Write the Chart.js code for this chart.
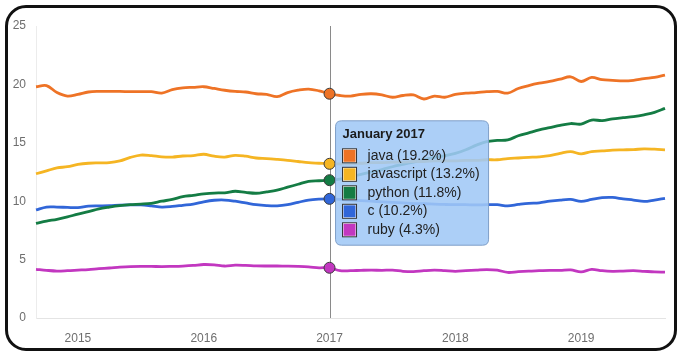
<!DOCTYPE html>
<html>
<head>
<meta charset="utf-8">
<script src="https://cdn.jsdelivr.net/npm/chart.js@4/dist/chart.umd.min.js"></script>
<style>
  html, body { margin: 0; padding: 0; background: #fff; }
  #wrap { position: relative; width: 690px; height: 358px; }
  #frame { position: absolute; left: 5px; top: 5px; width: 672px; height: 346px; box-sizing: border-box;
           border: 3px solid #111; border-radius: 21px; pointer-events: none; }
  canvas { position: absolute; left: 0; top: 0; }
</style>
</head>
<body>
<div id="wrap">
  <canvas id="c" width="690" height="358"></canvas>
  <div id="frame"></div>
</div>
<script>
// Monthly categories: September 2014 .. September 2019
const monthNames = ["January","February","March","April","May","June","July","August","September","October","November","December"];
const categories = [];
for (let y = 2014, m = 8; y < 2019 || (y === 2019 && m <= 8); ) {
  categories.push(monthNames[m] + " " + y);
  m++; if (m === 12) { m = 0; y++; }
}
const yearTicks = ["2015", "2016", "2017", "2018", "2019"];
const yTicks = [0, 5, 10, 15, 20, 25];
const highlightLabel = "January 2017";

const seriesNames = ["java", "javascript", "python", "c", "ruby"];

const javaValues = [19.8,19.9,19.3,19.0,19.15,19.35,19.4,19.4,19.4,19.38,19.38,19.38,19.25,19.55,19.7,19.75,19.8,19.65,19.5,19.4,19.35,19.2,19.15,18.95,19.3,19.5,19.6,19.45,
  19.2,19.05,19.0,19.15,19.2,19.1,18.9,19.05,19.1,18.75,19.0,18.9,19.15,19.25,19.3,19.38,19.4,19.25,19.65,19.9,20.1,20.25,20.45,20.65,20.25,20.6,20.4,20.35,20.3,20.35,20.5,20.6,20.8];
const javascriptValues = [12.35,12.6,12.85,12.95,13.15,13.25,13.28,13.3,13.45,13.75,13.95,13.9,13.8,13.78,13.87,13.9,14.02,13.85,13.78,13.93,13.85,13.7,13.65,13.58,13.5,13.4,13.3,13.25,
  13.2,13.2,13.2,13.25,13.3,13.3,13.35,13.35,13.4,13.4,13.45,13.45,13.45,13.5,13.5,13.55,13.55,13.65,13.7,13.75,13.8,13.9,14.1,14.25,14.05,14.25,14.3,14.38,14.4,14.42,14.48,14.45,14.4];
const pythonValues = [8.1,8.3,8.45,8.65,8.9,9.1,9.35,9.5,9.62,9.7,9.75,9.82,10.0,10.15,10.4,10.5,10.62,10.7,10.72,10.85,10.75,10.68,10.8,10.95,11.2,11.45,11.7,11.75,
  11.8,11.9,12.1,12.3,12.5,12.7,12.95,13.15,13.35,13.55,13.75,13.9,14.1,14.4,14.8,15.1,15.2,15.25,15.6,15.85,16.1,16.3,16.5,16.65,16.6,16.95,16.9,17.05,17.15,17.25,17.4,17.6,17.95];
const cValues = [9.25,9.5,9.5,9.47,9.45,9.58,9.6,9.62,9.66,9.68,9.68,9.6,9.5,9.55,9.65,9.75,9.95,10.08,10.1,10.0,9.85,9.7,9.62,9.6,9.7,9.9,10.1,10.18,
  10.2,10.15,10.1,10.05,10.0,9.95,9.9,9.85,9.8,9.78,9.75,9.72,9.7,9.7,9.68,9.7,9.7,9.6,9.72,9.82,9.85,10.0,10.1,10.15,9.98,10.15,10.3,10.32,10.2,10.1,9.98,10.1,10.25];
const rubyValues = [4.17,4.08,4.02,4.05,4.1,4.15,4.22,4.28,4.35,4.4,4.42,4.42,4.4,4.42,4.45,4.5,4.58,4.55,4.45,4.52,4.5,4.46,4.45,4.45,4.44,4.42,4.38,4.3,
  4.3,4.05,4.05,4.08,4.1,4.08,4.1,4.0,3.97,4.05,4.1,4.05,4.0,4.05,4.1,4.15,4.1,3.9,3.97,4.02,4.05,4.08,4.08,4.12,3.95,4.17,4.05,4.0,4.02,4.05,4.0,3.95,3.92];

const seriesValues = [javaValues, javascriptValues, pythonValues, cValues, rubyValues];
const seriesColors = ["#ee7326", "#f5b523", "#147c44", "#3166d8", "#c237c0"];

const hiIndex = categories.indexOf(highlightLabel);
const FONT = "'Liberation Sans', Arial, sans-serif";

const datasets = seriesNames.map((name, i) => ({
  label: name,
  data: seriesValues[i],
  borderColor: seriesColors[i],
  backgroundColor: seriesColors[i],
  borderWidth: 2.8,
  tension: 0.35,
  pointRadius: ctx => ctx.dataIndex === hiIndex ? 5.5 : 0,
  pointBorderColor: "#3a3a3a",
  pointBorderWidth: 1,
  pointBackgroundColor: seriesColors[i],
  pointHoverRadius: 5.5,
  fill: false
}));

const vline = {
  id: "vline",
  beforeDatasetsDraw(chart) {
    const {ctx, chartArea, scales} = chart;
    const x = Math.round(scales.x.getPixelForValue(hiIndex)) + 0.5;
    ctx.save();
    ctx.strokeStyle = "#8a8a8a";
    ctx.lineWidth = 1;
    ctx.beginPath();
    ctx.moveTo(x, chartArea.top);
    ctx.lineTo(x, chartArea.bottom);
    ctx.stroke();
    ctx.restore();
  }
};

Chart.Tooltip.positioners.fixedRight = function(items) {
  if (!items.length) return false;
  return { x: items[0].element.x + 6, y: this.chart.chartArea.top + 157 };
};

const chart = new Chart(document.getElementById("c"), {
  type: "line",
  data: { labels: categories, datasets },
  plugins: [vline],
  options: {
    responsive: false,
    animation: false,
    events: [],
    layout: { padding: { top: 26, right: 25, bottom: 0, left: 0 } },
    plugins: {
      legend: { display: false },
      tooltip: {
        enabled: true,
        mode: "index",
        position: "fixedRight",
        xAlign: "left",
        yAlign: "center",
        caretSize: 0,
        caretPadding: 0,
        backgroundColor: "rgba(160,200,246,0.88)",
        borderColor: "#7f9fc8",
        borderWidth: 1,
        cornerRadius: 6,
        padding: { top: 6, left: 7, right: 9, bottom: 7 },
        titleFont: { family: FONT, size: 13, weight: "bold" },
        titleColor: "#1b1b1b",
        titleMarginBottom: 5,
        bodyFont: { family: FONT, size: 14 },
        bodyColor: "#222",
        bodySpacing: 1.7,
        boxWidth: 14,
        boxHeight: 14,
        boxPadding: 9,
        usePointStyle: false,
        displayColors: true,
        callbacks: {
          title: items => items[0].label,
          label: item => item.dataset.label + " (" + item.parsed.y.toFixed(1) + "%)",
          labelColor: item => ({ borderColor: "#333", backgroundColor: seriesColors[item.datasetIndex], borderWidth: 1 })
        }
      }
    },
    scales: {
      x: {
        type: "category",
        offset: false,
        grid: { display: false, drawTicks: false },
        border: { display: true, color: "#e4e4e4", width: 1 },
        afterFit: s => { s.height = 40; },
        ticks: {
          autoSkip: false,
          maxRotation: 0,
          padding: 13,
          color: "#6e6e6e",
          font: { family: FONT, size: 12 },
          callback: function(v, i) {
            const lab = categories[i];
            if (lab && lab.startsWith("January")) {
              const yr = lab.split(" ")[1];
              return yearTicks.includes(yr) ? yr : "";
            }
            return "";
          }
        }
      },
      y: {
        min: 0, max: 25,
        grid: { display: false, drawTicks: false },
        border: { display: true, color: "#ececec", width: 1 },
        afterFit: s => { s.width = 36; },
        afterBuildTicks: s => { s.ticks = yTicks.map(v => ({ value: v })); },
        ticks: {
          padding: 10,
          color: "#6e6e6e",
          font: { family: FONT, size: 12 }
        }
      }
    }
  }
});

const active = seriesNames.map((_, i) => ({ datasetIndex: i, index: hiIndex }));
const el = chart.getDatasetMeta(0).data[hiIndex];
chart.tooltip.setActiveElements(active, { x: el.x, y: el.y });
chart.update();
</script>
</body>
</html>
